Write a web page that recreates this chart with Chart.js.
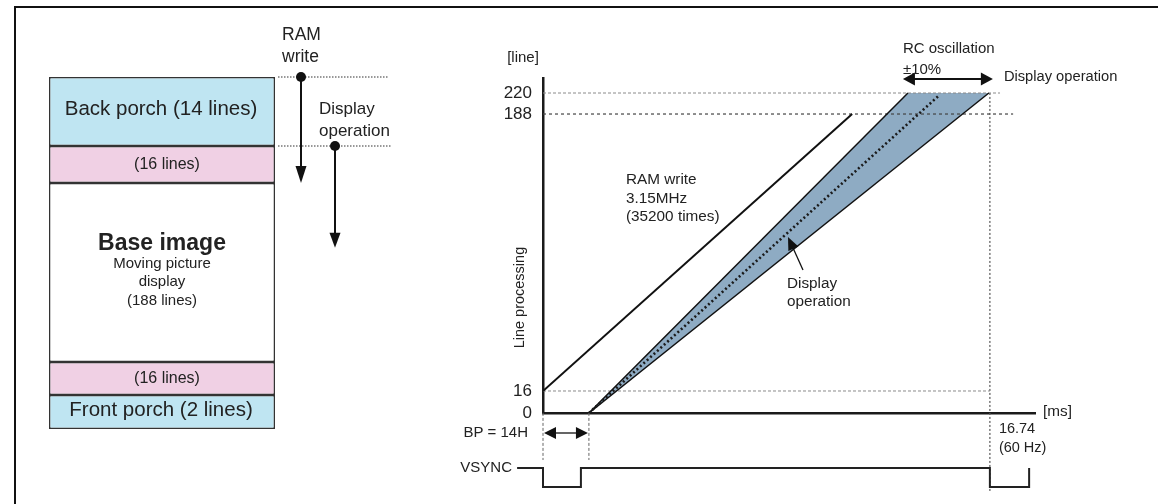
<!DOCTYPE html>
<html><head><meta charset="utf-8">
<script src="https://cdn.jsdelivr.net/npm/chart.js@4/dist/chart.umd.min.js"></script>
<style>
html,body{margin:0;padding:0;background:#fff;width:1158px;height:504px;overflow:hidden;}
#frame{position:absolute;left:14px;top:6px;width:1160px;height:520px;border-top:2.5px solid #111;border-left:2.5px solid #111;box-sizing:border-box;}
.wrap{position:absolute;left:0;top:0;width:1158px;height:504px;}
</style></head><body>
<div id="frame"></div>
<div class="wrap"><canvas id="blocks"></canvas></div>
<div class="wrap"><canvas id="timing"></canvas></div>
<script>
const FONT = "'Liberation Sans', Arial, Helvetica, sans-serif";
const INK = '#222';

// ---- left: frame structure (lines per block) ----
const blockNames = ['Back porch (14 lines)', '(16 lines)', 'Base image', '(16 lines)', 'Front porch (2 lines)'];
const blockLines = [14, 16, 188, 16, 2];
const blockColors = ['#bfe5f2', '#f0d0e4', '#ffffff', '#f0d0e4', '#bfe5f2'];
const baseImageNote = ['Moving picture', 'display', '(188 lines)'];
const ramWriteSpan = [0, 30];      // lines swept by the RAM write arrow
const displaySpan = [14, 98];      // lines swept by the display arrow

// ---- right: line processing vs time ----
const yTickValues = [0, 16, 188, 220];
const xTickValue = 16.74;
const ramWriteX = [0, 11.58];   const ramWriteY = [16, 188];
const dispLeftX = [1.72, 13.67]; const dispLeftY = [0, 220];
const dispRightX = [1.72, 16.70]; const dispRightY = [0, 220];
const dispMidX = [1.72, 14.80];  const dispMidY = [0, 215];
const refLineY = [220, 188, 16];
const refLineEndX = [17.12, 17.61, 16.74];
const bpWidth = 1.72;
const vsyncTimes = [-0.97, 0, 1.42, 16.74, 18.21];
const vsyncLevels = [1, 0, 1, 0, 1];

// piecewise-linear scale (schematic axis with uneven spacing)
class PiecewiseScale extends Chart.LinearScale {
  static id = 'piecewise';
  _frac(value) {
    const b = this.options.breaks;
    let i = 0;
    while (i < b.length - 2 && value > b[i + 1][0]) i++;
    const v0 = b[i][0], f0 = b[i][1], v1 = b[i + 1][0], f1 = b[i + 1][1];
    return f0 + (value - v0) * (f1 - f0) / (v1 - v0);
  }
  getPixelForValue(value) { return this.getPixelForDecimal(this._frac(value)); }
  getValueForPixel(pixel) {
    const d = this.getDecimalForPixel(pixel), b = this.options.breaks;
    let i = 0;
    while (i < b.length - 2 && d > b[i + 1][1]) i++;
    const v0 = b[i][0], f0 = b[i][1], v1 = b[i + 1][0], f1 = b[i + 1][1];
    return v0 + (d - f0) * (v1 - v0) / (f1 - f0);
  }
}
Chart.register(PiecewiseScale);

function text(ctx, s, x, y, size, align, weight) {
  ctx.font = (weight || 'normal') + ' ' + size + 'px ' + FONT;
  ctx.textAlign = align || 'left';
  ctx.textBaseline = 'middle';
  ctx.fillText(s, x, y);
}
function head(ctx, tx, ty, angle, len, half) {
  ctx.save(); ctx.translate(tx, ty); ctx.rotate(angle);
  ctx.beginPath(); ctx.moveTo(0, 0); ctx.lineTo(-len, -half); ctx.lineTo(-len, half); ctx.closePath(); ctx.fill();
  ctx.restore();
}
function line(ctx, x1, y1, x2, y2, w, dash) {
  ctx.save(); ctx.lineWidth = w; ctx.setLineDash(dash || []);
  ctx.beginPath(); ctx.moveTo(x1, y1); ctx.lineTo(x2, y2); ctx.stroke(); ctx.restore();
}

const blockLabels = {
  id: 'blockLabels',
  afterDatasetsDraw(chart) {
    const { ctx, chartArea: a, scales: { y } } = chart;
    ctx.save(); ctx.fillStyle = INK; ctx.strokeStyle = INK;
    blockNames.forEach((name, i) => {
      const el = chart.getDatasetMeta(i).data[0];
      const cy = (el.y + el.base) / 2, cx = el.x;
      if (i === 2) {
        text(ctx, name, cx, cy - 29, 23, 'center', 'bold');
        baseImageNote.forEach((s, k) => text(ctx, s, cx, cy - 9 + k * 18.5, 15, 'center'));
      } else if (i === 0 || i === 4) {
        text(ctx, name, cx - 1, cy - 2, 20.5, 'center');
      } else {
        text(ctx, name, cx + 5, cy, 16, 'center');
      }
    });
    // RAM write / display operation arrows
    const r0 = y.getPixelForValue(ramWriteSpan[0]), r1 = y.getPixelForValue(ramWriteSpan[1]);
    const d0 = y.getPixelForValue(displaySpan[0]), d1 = y.getPixelForValue(displaySpan[1]);
    ctx.strokeStyle = '#333';
    line(ctx, a.right + 3, r0, a.right + 113, r0, 1.2, [1.5, 1.5]);
    line(ctx, a.right + 3, d0, a.right + 117, d0, 1.2, [1.5, 1.5]);
    ctx.strokeStyle = '#111'; ctx.fillStyle = '#111';
    const rx = a.right + 26, dx = a.right + 60;
    line(ctx, rx, r0, rx, r1 - 12, 2);
    head(ctx, rx, r1, Math.PI / 2, 17, 5.5);
    ctx.beginPath(); ctx.arc(rx, r0, 5, 0, Math.PI * 2); ctx.fill();
    line(ctx, dx, d0, dx, d1 - 12, 2);
    head(ctx, dx, d1, Math.PI / 2, 15, 5.5);
    ctx.beginPath(); ctx.arc(dx, d0, 5, 0, Math.PI * 2); ctx.fill();
    ctx.fillStyle = INK;
    text(ctx, 'RAM', a.right + 7, r0 - 42, 17.5, 'left');
    text(ctx, 'write', a.right + 7, r0 - 20, 17.5, 'left');
    text(ctx, 'Display', a.right + 44, r0 + 32, 17, 'left');
    text(ctx, 'operation', a.right + 44, r0 + 54, 17, 'left');
    ctx.restore();
  }
};

new Chart(document.getElementById('blocks'), {
  type: 'bar',
  data: {
    labels: ['frame'],
    datasets: blockLines.map((v, i) => ({
      label: blockNames[i], data: [v], backgroundColor: blockColors[i],
      borderColor: '#333', borderWidth: 1.5, borderSkipped: false, inflateAmount: 0,
      categoryPercentage: 1, barPercentage: 1
    }))
  },
  options: {
    responsive: true, maintainAspectRatio: false, animation: false,
    layout: { padding: { left: 49, right: 883, top: 77, bottom: 75 } },
    plugins: { legend: { display: false }, tooltip: { enabled: false } },
    scales: {
      x: { display: false, stacked: true },
      y: {
        type: 'piecewise', display: false, stacked: true, reverse: true, min: 0, max: 236,
        breaks: [[0, 0], [14, 0.196], [30, 0.301], [218, 0.8097], [234, 0.9034], [236, 1]]
      }
    }
  },
  plugins: [blockLabels]
});

const pts = (xs, ys) => xs.map((x, i) => ({ x, y: ys[i] }));

const timingNotes = {
  id: 'timingNotes',
  afterDraw(chart) {
    const { ctx, chartArea: a, scales: { x, y, yv } } = chart;
    ctx.save(); ctx.fillStyle = INK; ctx.strokeStyle = INK;
    text(ctx, '[line]', a.left - 20, a.top - 20, 15, 'center');
    ctx.save(); ctx.translate(a.left - 23, y.getPixelForValue(74)); ctx.rotate(-Math.PI / 2);
    text(ctx, 'Line processing', 0, 0, 14.5, 'center'); ctx.restore();
    text(ctx, 'RAM write', a.left + 83, a.top + 102, 15.3, 'left');
    text(ctx, '3.15MHz', a.left + 83, a.top + 121, 15.3, 'left');
    text(ctx, '(35200 times)', a.left + 83, a.top + 139, 15.3, 'left');
    text(ctx, 'Display', a.left + 244, a.top + 206, 15.3, 'left');
    text(ctx, 'operation', a.left + 244, a.top + 224, 15.3, 'left');
    // pointer arrow to the display band
    ctx.fillStyle = '#111'; ctx.strokeStyle = '#111';
    const tx = a.left + 245, ty = a.top + 159, sx = a.left + 260, sy = a.top + 192;
    const ang = Math.atan2(ty - sy, tx - sx);
    line(ctx, sx, sy, tx - 10 * Math.cos(ang), ty - 10 * Math.sin(ang), 1.3);
    head(ctx, tx, ty, ang, 13, 5.5);
    // RC oscillation arrow
    const ax1 = x.getPixelForValue(dispLeftX[1]) - 5, ax2 = x.getPixelForValue(xTickValue) + 3, ay = a.top + 1;
    line(ctx, ax1 + 10, ay, ax2 - 10, ay, 2);
    head(ctx, ax1, ay, Math.PI, 12, 6.5);
    head(ctx, ax2, ay, 0, 12, 6.5);
    ctx.fillStyle = INK;
    text(ctx, 'RC oscillation', ax1, a.top - 29, 15, 'left');
    text(ctx, '\u00b110%', ax1, a.top - 8, 15, 'left');
    text(ctx, 'Display operation', ax2 + 11, a.top - 1, 14.7, 'left');
    // BP arrow
    const bx1 = x.getPixelForValue(0), bx2 = x.getPixelForValue(bpWidth), by = a.bottom + 20;
    ctx.fillStyle = '#111';
    line(ctx, bx1 + 8, by, bx2 - 8, by, 1.3);
    head(ctx, bx1 + 1, by, Math.PI, 12, 6);
    head(ctx, bx2 - 1, by, 0, 12, 6);
    ctx.fillStyle = INK;
    text(ctx, 'BP = 14H', a.left - 15, by, 15, 'right');
    text(ctx, 'VSYNC', a.left - 31, yv.getPixelForValue(1), 15, 'right');
    text(ctx, '[ms]', a.right + 8, a.bottom - 1, 15.3, 'left');
    const lx = x.getPixelForValue(xTickValue) + 9;
    text(ctx, String(xTickValue), lx, a.bottom + 16, 14.5, 'left');
    text(ctx, '(60 Hz)', lx, a.bottom + 35, 14.5, 'left');
    ctx.restore();
  }
};

const refColors = ['#8a8a8a', '#444', '#8a8a8a'];
const refDash = [[3, 2], [3, 3], [3, 2]];
const datasets = [
  // band fill
  { data: [...pts(dispLeftX, dispLeftY), { x: dispRightX[1], y: dispRightY[1] }], fill: '+1',
    backgroundColor: '#8eabc3', borderWidth: 0, order: 5 },
  { data: pts(dispRightX, dispRightY), fill: false, borderWidth: 0, order: 5 },
  // reference lines
  ...refLineY.map((v, i) => ({ data: [{ x: 0, y: v }, { x: refLineEndX[i], y: v }], borderColor: refColors[i],
    borderWidth: i === 1 ? 1.2 : 1, borderDash: refDash[i], fill: false, order: 4 })),
  { data: [{ x: xTickValue, y: 20.74 }, { x: xTickValue, y: -0.26 }], yAxisID: 'yv', borderColor: '#555',
    borderWidth: 1.2, borderDash: [2, 2], fill: false, clip: false, order: 4 },
  { data: [{ x: 0, y: 3.9 }, { x: 0, y: 1.42 }], yAxisID: 'yv', borderColor: '#666', borderWidth: 1,
    borderDash: [3, 2], fill: false, clip: false, order: 4 },
  { data: [{ x: bpWidth, y: 3.9 }, { x: bpWidth, y: 1.42 }], yAxisID: 'yv', borderColor: '#666', borderWidth: 1,
    borderDash: [3, 2], fill: false, clip: false, order: 4 },
  // edges
  { data: pts(dispLeftX, dispLeftY), borderColor: '#111', borderWidth: 1.5, fill: false, order: 2 },
  { data: pts(dispRightX, dispRightY), borderColor: '#111', borderWidth: 1.5, fill: false, order: 2 },
  { data: pts(dispMidX, dispMidY), borderColor: '#1a1a1a', borderWidth: 2.6, borderDash: [2, 2.6],
    borderCapStyle: 'butt', fill: false, order: 1 },
  { data: pts(ramWriteX, ramWriteY), borderColor: '#111', borderWidth: 2, fill: false, order: 2 },
  // VSYNC
  { data: pts(vsyncTimes, vsyncLevels), yAxisID: 'yv', stepped: 'before', borderColor: '#222',
    borderWidth: 2, fill: false, clip: false, order: 1 }
];

new Chart(document.getElementById('timing'), {
  type: 'line',
  data: { datasets: datasets.map(d => Object.assign({ pointRadius: 0, tension: 0 }, d)) },
  options: {
    responsive: true, maintainAspectRatio: false, animation: false,
    layout: { padding: { left: 495, right: 123, top: 78, bottom: 0 } },
    plugins: { legend: { display: false }, tooltip: { enabled: false } },
    scales: {
      x: {
        type: 'linear', min: 0, max: 18.43,
        ticks: { display: false }, grid: { display: false, drawTicks: false },
        border: { display: true, color: '#1a1a1a', width: 2.5 },
        afterFit: s => { s.height = 91; }
      },
      y: {
        type: 'piecewise', min: 0, max: 243,
        breaks: [[0, 0], [16, 0.0657], [188, 0.8925], [220, 0.9552], [243, 1]],
        afterBuildTicks: s => { s.ticks = yTickValues.map(v => ({ value: v })); },
        ticks: { color: INK, font: { family: FONT, size: 17 }, padding: 11, callback: v => String(v) },
        grid: { display: false, drawTicks: false },
        border: { display: true, color: '#1a1a1a', width: 2.5 },
        afterFit: s => { s.width = 48; }
      },
      yv: { type: 'linear', display: false, min: 3.895, max: 21.526 }
    }
  },
  plugins: [timingNotes]
});
</script>
</body></html>
